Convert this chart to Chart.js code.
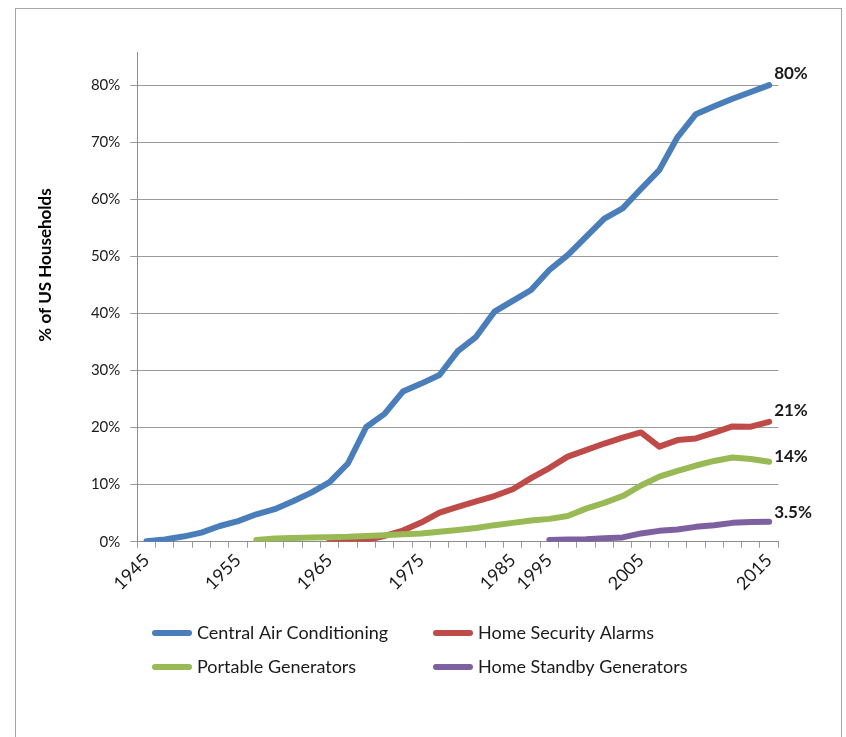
<!DOCTYPE html>
<html>
<head>
<meta charset="utf-8">
<script src="https://cdn.jsdelivr.net/npm/chart.js@4.4.1/dist/chart.umd.min.js"></script>
<style>
  html, body { margin: 0; padding: 0; background: #fff; }
  #wrap { width: 846px; height: 737px; position: relative; }
</style>
</head>
<body>
<div id="wrap"><canvas id="chart" width="846" height="737"></canvas></div>
<script>
// Survey years (category axis)
const years = [1945, 1947, 1949, 1951, 1953, 1955, 1957, 1959, 1961, 1963,
               1965, 1967, 1969, 1971, 1973, 1975, 1977, 1979, 1981, 1983,
               1985, 1990, 1995, 1997, 1999, 2001, 2003, 2005, 2007, 2009,
               2011, 2012, 2013, 2014, 2015];
const labelYears = [1945, 1955, 1965, 1975, 1985, 1995, 2005, 2015];

// Share of US households, in percent
const centralAir = [0.1, 0.4, 0.9, 1.6, 2.75, 3.6, 4.8, 5.7, 7.1, 8.6,
                    10.45, 13.7, 20.1, 22.4, 26.3, 27.7, 29.2, 33.4, 35.9, 40.3,
                    42.2, 44.1, 47.6, 50.2, 53.4, 56.6, 58.4, 61.8, 65.1, 70.9,
                    74.9, 76.3, 77.6, 78.8, 80];
const securityAlarms = [null, null, null, null, null, null, null, null, null, null,
                        0.1, 0.15, 0.3, 1.0, 1.95, 3.35, 5.1, 6.1, 7.05, 8.0,
                        9.2, 11.15, 12.9, 14.9, 16.05, 17.2, 18.25, 19.15, 16.65, 17.8,
                        18.1, 19.1, 20.2, 20.15, 21];
const portableGenerators = [null, null, null, null, null, null, 0.3, 0.55, 0.65, 0.75,
                            0.8, 0.85, 1.0, 1.15, 1.3, 1.45, 1.75, 2.05, 2.4, 2.9,
                            3.3, 3.7, 4.0, 4.5, 5.8, 6.8, 8.0, 9.85, 11.4, 12.4,
                            13.35, 14.15, 14.75, 14.5, 14];
const standbyGenerators = [null, null, null, null, null, null, null, null, null, null,
                           null, null, null, null, null, null, null, null, null, null,
                           null, null, 0.3, 0.4, 0.45, 0.6, 0.75, 1.45, 1.9, 2.15,
                           2.6, 2.9, 3.3, 3.45, 3.5];

const seriesNames = ['Central Air Conditioning', 'Home Security Alarms',
                     'Portable Generators', 'Home Standby Generators'];
const endLabels = ['80%', '21%', '14%', '3.5%'];
const yTickValues = [0, 10, 20, 30, 40, 50, 60, 70, 80];

const FONT = 'Lato, "Open Sans", sans-serif';
const colors = ['#4a7ebb', '#be4b48', '#98b954', '#7d60a0'];
const endLabelShift = [-12, -11, -5, -9];

// Outer frame, axis title, end-of-line labels and the 2x2 legend
const decorations = {
  id: 'decorations',
  beforeDraw(chart) {
    const ctx = chart.ctx;
    ctx.save();
    ctx.fillStyle = '#ffffff';
    ctx.fillRect(0, 0, chart.width, chart.height);
    ctx.strokeStyle = '#a6a6a6';
    ctx.lineWidth = 1;
    ctx.strokeRect(15.5, 8.5, 826, 740);
    ctx.restore();
  },
  afterDatasetsDraw(chart) {
    const ctx = chart.ctx;
    ctx.save();
    ctx.font = 'bold 17px ' + FONT;
    ctx.fillStyle = '#1a1a1a';
    ctx.textAlign = 'left';
    ctx.textBaseline = 'middle';
    chart.data.datasets.forEach((ds, i) => {
      const pts = chart.getDatasetMeta(i).data;
      const last = pts[pts.length - 1];
      ctx.fillText(endLabels[i], last.x + 5, last.y + endLabelShift[i]);
    });
    ctx.restore();
  },
  afterDraw(chart) {
    const ctx = chart.ctx;
    ctx.save();
    // y-axis title
    ctx.translate(46, 265);
    ctx.rotate(-Math.PI / 2);
    ctx.font = 'bold 17px ' + FONT;
    ctx.fillStyle = '#000';
    ctx.textAlign = 'center';
    ctx.textBaseline = 'middle';
    ctx.fillText('% of US Households', 0, 0);
    ctx.restore();

    // legend
    ctx.save();
    const cols = [152, 433];
    const rows = [633, 667];
    ctx.font = '18px ' + FONT;
    ctx.textAlign = 'left';
    ctx.textBaseline = 'middle';
    chart.data.datasets.forEach((ds, i) => {
      const x = cols[i % 2];
      const y = rows[Math.floor(i / 2)];
      ctx.strokeStyle = ds.borderColor;
      ctx.lineWidth = 6;
      ctx.lineCap = 'round';
      ctx.beginPath();
      ctx.moveTo(x + 3, y);
      ctx.lineTo(x + 37, y);
      ctx.stroke();
      ctx.fillStyle = '#1a1a1a';
      ctx.fillText(ds.label, x + 45, y);
    });
    ctx.restore();
  }
};

const series = [centralAir, securityAlarms, portableGenerators, standbyGenerators];

new Chart(document.getElementById('chart'), {
  type: 'line',
  data: {
    labels: years.map(String),
    datasets: series.map((values, i) => ({
      label: seriesNames[i],
      data: values,
      borderColor: colors[i],
      backgroundColor: colors[i],
      order: 3 - i
    }))
  },
  options: {
    responsive: false,
    animation: false,
    layout: { padding: { left: 0, right: 846 - 778.3, top: 52, bottom: 0 } },
    plugins: { legend: { display: false }, tooltip: { enabled: false } },
    elements: {
      point: { radius: 0, hoverRadius: 0 },
      line: { borderWidth: 6, borderCapStyle: 'round', borderJoinStyle: 'round', tension: 0, fill: false }
    },
    scales: {
      x: {
        type: 'category',
        offset: true,
        grid: { offset: true, drawOnChartArea: false, drawTicks: true, tickLength: 6, color: '#9a9a9a' },
        border: { display: true, color: '#8c8c8c', width: 1 },
        ticks: {
          autoSkip: false, maxRotation: 45, minRotation: 45, padding: 2,
          font: { family: FONT, size: 18 }, color: '#1a1a1a',
          callback: (v, i) => labelYears.includes(years[i]) ? String(years[i]) : ''
        },
        afterFit: s => { s.height = 737 - 541.7; }
      },
      y: {
        min: 0,
        max: 85.8,
        afterBuildTicks: s => { s.ticks = yTickValues.map(v => ({ value: v })); },
        grid: { color: '#9a9a9a', tickLength: 7, drawTicks: true },
        border: { display: true, color: '#8c8c8c', width: 1 },
        ticks: {
          font: { family: FONT, size: 15 }, color: '#1a1a1a', padding: 10,
          callback: v => v + '%'
        },
        afterFit: s => { s.width = 137.3; }
      }
    }
  },
  plugins: [decorations]
});
</script>
</body>
</html>
